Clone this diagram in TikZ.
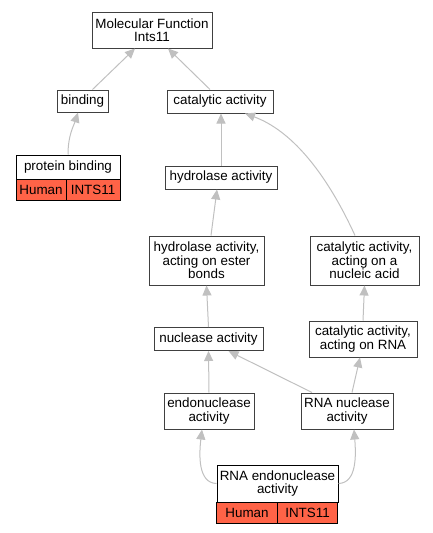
\documentclass[tikz,border=0pt]{standalone}
\usepackage{fontspec}
\setmainfont{Liberation Sans}
\usetikzlibrary{arrows.meta}
\definecolor{edgegray}{HTML}{C0C0C0}
\definecolor{boxborder}{HTML}{404040}
\definecolor{tomato}{HTML}{FF6347}

\begin{document}
\begin{tikzpicture}[x=1pt, y=-1pt,
    term/.style={draw=boxborder, line width=1pt, fill=white, rectangle, inner sep=0pt, align=center,
        font=\fontsize{13.4}{13.4}\selectfont},
    cell/.style={draw=black, line width=1pt, fill=tomato, rectangle, inner sep=0pt, minimum height=21pt,
        font=\fontsize{13.4}{13.4}\selectfont},
    isa/.style={draw=edgegray, line width=1pt, -{Triangle[length=10pt, width=9pt]}}
]
    \useasboundingbox (0,0) rectangle (433,533);

    % Root term
    \node[term, minimum width=120pt, minimum height=36pt] (mf) at (152,30) {Molecular Function\\Ints11};

    % Second level
    \node[term, minimum width=51pt, minimum height=22pt] (binding) at (82.5,101) {binding};
    \node[term, minimum width=106pt, minimum height=23pt] (cat) at (220,101.5) {catalytic activity};

    % Annotated term (left)
    \node[term, draw=black, minimum width=104pt, minimum height=24pt] (protbind) at (68,167) {protein binding};
    \node[cell, minimum width=50pt] (protbindsp) at (41,189.5) {Human};
    \node[cell, minimum width=54pt] (protbindgene) at (93,189.5) {INTS11};

    % Hydrolase branch
    \node[term, minimum width=112pt, minimum height=23pt] (hydro) at (221,177.5) {hydrolase activity};
    \node[term, minimum width=115pt, minimum height=49pt] (ester) at (206.5,260.5) {hydrolase activity,\\acting on ester\\bonds};
    \node[term, minimum width=109pt, minimum height=23pt] (nuclease) at (208.5,339) {nuclease activity};
    \node[term, minimum width=90pt, minimum height=36pt] (endo) at (209,411) {endonuclease\\activity};

    % Nucleic acid branch
    \node[term, minimum width=109pt, minimum height=49pt] (nucacid) at (364.5,260.5) {catalytic activity,\\acting on a\\nucleic acid};
    \node[term, minimum width=108pt, minimum height=36pt] (catrna) at (363,339) {catalytic activity,\\acting on RNA};
    \node[term, minimum width=92pt, minimum height=36pt] (rnanuc) at (347,411) {RNA nuclease\\activity};

    % Annotated term (bottom)
    \node[term, draw=black, minimum width=121pt, minimum height=37pt] (rnaendo) at (277.5,483.5) {RNA endonuclease\\activity};
    \node[cell, minimum width=61pt] (rnaendosp) at (247,512.5) {Human};
    \node[cell, minimum width=60pt] (rnaendogene) at (307.5,512.5) {INTS11};

    % is_a edges
    \draw[isa] ([xshift=10pt]binding.north) -- ([xshift=-17pt]mf.south);
    \draw[isa] ([xshift=-10pt]cat.north) -- ([xshift=16pt]mf.south);
    \draw[isa] (protbind.north) .. controls (68,135) and (74,125) .. ([xshift=-4.5pt]binding.south);
    \draw[isa] (hydro.north) -- ([xshift=1pt]cat.south);
    \draw[isa] ([xshift=-9.5pt]nucacid.north) .. controls (325,170) and (290,130) .. ([xshift=25pt]cat.south);
    \draw[isa] ([xshift=4.5pt]ester.north) -- ([xshift=-4pt]hydro.south);
    \draw[isa] (catrna.north) -- (nucacid.south);
    \draw[isa] (nuclease.north) -- (ester.south);
    \draw[isa] ([xshift=5pt]rnanuc.north) -- ([xshift=-3pt]catrna.south);
    \draw[isa] (endo.north) -- (nuclease.south);
    \draw[isa] ([xshift=-35pt]rnanuc.north) -- ([xshift=20pt]nuclease.south);
    \draw[isa] (rnaendo.west) .. controls (198,483) and (199,455) .. ([xshift=-7pt]endo.south);
    \draw[isa] (rnaendo.east) .. controls (357,483) and (356,455) .. ([xshift=7pt]rnanuc.south);

\end{tikzpicture}
\end{document}
